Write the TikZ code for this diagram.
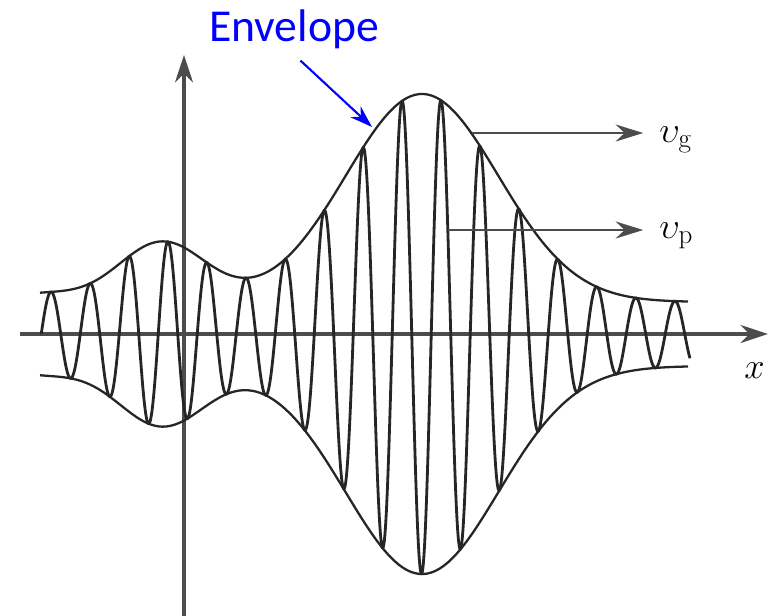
\documentclass[tikz,border=0pt]{standalone}
\usepackage{fontspec}
\newfontfamily\envfont{Carlito}
\usetikzlibrary{arrows.meta}

\begin{document}
\begin{tikzpicture}[
    x=0.02cm, y=-0.02cm,
    declare function={
      env(\x)=32+8*exp(-min(9,((\x-40)/50)*((\x-40)/50)))+60*exp(-min(9,((\x-162)/62)*((\x-162)/62)))+208*exp(-min(9,((\x-422)/108)*((\x-422)/108)));
    },
    axis/.style={line width=2pt, black!70, -{Stealth[length=5.5mm, width=3.6mm]}},
    curve/.style={line width=1.3pt, black!85, line join=round},
    wave/.style={line width=1.6pt, black!85, line join=round},
    arrow/.style={line width=1.4pt, black!70, -{Stealth[length=5.5mm, width=3.4mm]}},
    bluearrow/.style={line width=1.2pt, blue, -{Stealth[length=4.5mm, width=3mm]}},
    vlabel/.style={anchor=base west, inner sep=0pt, font=\fontsize{22}{26}\selectfont}
]
\useasboundingbox (0,0) rectangle (782,616);

\coordinate (xfrom) at (20,334);
\coordinate (xto) at (768,334);
\coordinate (yfrom) at (184,616);
\coordinate (yto) at (184,55);
\draw[axis] (xfrom) -- (xto);
\draw[axis] (yfrom) -- (yto);

\draw[curve] plot[domain=40:688, samples=160, smooth] (\x, {334-env(\x)});
\draw[curve] plot[domain=40:688, samples=160, smooth] (\x, {334+env(\x)});
\draw[wave] plot[domain=41.25:690, samples=1300] (\x, {334-env(\x)*cos((\x-51)/39*360)});

\node[vlabel] (xlabel) at (744,378) {$x$};
\node[vlabel] (vg) at (659,142) {$\upsilon_{\mathrm{g}}$};
\node[vlabel] (vp) at (659,238) {$\upsilon_{\mathrm{p}}$};
\node[font=\envfont\fontsize{26}{30}\selectfont, text=blue, anchor=base] (envelope) at (294,41) {Envelope};

\coordinate (vgstart) at (472,133);
\coordinate (vpstart) at (448,230);
\coordinate (envtip) at (372,127);
\draw[arrow, shorten >=9pt] (vgstart) -- (vgstart -| vg.west);
\draw[arrow, shorten >=9pt] (vpstart) -- (vpstart -| vp.west);
\draw[bluearrow, shorten <=5pt] (envelope.south) -- (envtip);
\end{tikzpicture}
\end{document}
